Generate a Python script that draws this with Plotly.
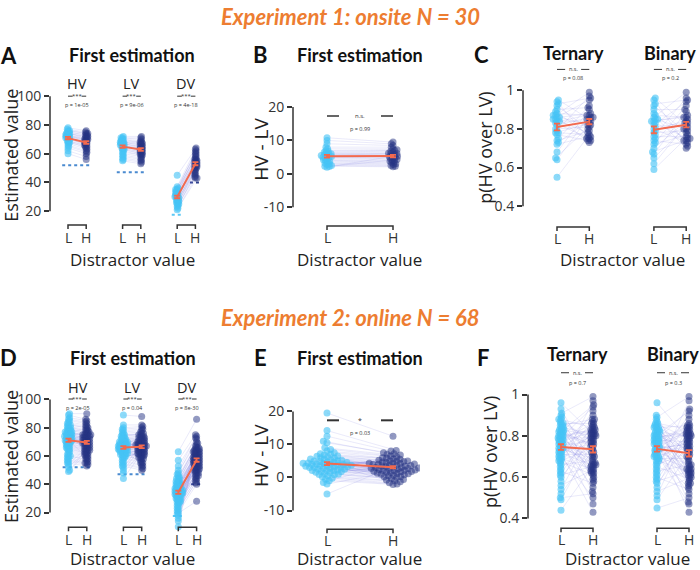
import numpy as np
import plotly.graph_objects as go

W, H = 700, 570

# ---------------- data: Experiment 1 (N = 30) ----------------
e1_hv_L = [78, 77, 76, 76, 75, 75, 74, 74, 74, 73, 73, 73, 72, 72, 72, 71, 71, 71, 70, 70, 69, 69, 68, 68, 67, 66, 65, 64, 62, 60]
e1_hv_H = [76, 75, 74, 74, 73, 73, 72, 72, 71, 71, 70, 70, 70, 69, 69, 68, 68, 67, 67, 66, 66, 65, 65, 64, 63, 62, 61, 60, 58, 56]
e1_lv_L = [72, 71, 71, 70, 70, 69, 69, 68, 68, 68, 67, 67, 67, 66, 66, 66, 65, 65, 64, 64, 63, 63, 62, 61, 60, 59, 58, 57, 56, 55]
e1_lv_H = [72, 71, 70, 69, 68, 68, 67, 67, 66, 66, 65, 65, 64, 64, 63, 63, 62, 62, 61, 61, 60, 60, 59, 59, 58, 57, 56, 55, 54, 53]
e1_dv_L = [45, 37, 36, 35, 35, 34, 34, 33, 33, 32, 32, 31, 31, 30, 30, 30, 29, 29, 28, 28, 27, 27, 26, 26, 25, 25, 24, 23, 22, 21]
e1_dv_H = [64, 63, 62, 61, 60, 59, 58, 57, 56, 56, 55, 55, 54, 54, 53, 53, 52, 52, 51, 51, 50, 50, 49, 48, 47, 46, 45, 44, 43, 43]

e1_diff_L = [10.8, 10, 9, 8, 7.5, 7, 6.8, 6.5, 6.3, 6, 6, 5.8, 5.5, 5.2, 5, 5, 4.8, 4.5, 4.2, 4, 3.8, 3.5, 3.2, 3, 2.8, 2.5, 2.3, 2.2, 2, 5.5]
e1_diff_H = [9.5, 9, 8.5, 8, 7.5, 7.2, 7, 6.8, 6.5, 6.2, 6, 5.8, 5.5, 5.3, 5, 4.8, 4.5, 4.3, 4, 3.8, 3.5, 3.3, 3, 2.8, 2.5, 2.3, 2.1, 4.2, 5.1, 6.1]

e1_ter_L = [0.95, 0.94, 0.93, 0.92, 0.90, 0.89, 0.88, 0.87, 0.87, 0.86, 0.86, 0.85, 0.85, 0.84, 0.83, 0.82, 0.80, 0.79, 0.78, 0.78, 0.77, 0.75, 0.74, 0.73, 0.72, 0.68, 0.65, 0.64, 0.55, 0.84]
e1_ter_H = [0.85, 0.74, 0.96, 0.80, 0.91, 0.76, 0.87, 0.99, 0.82, 0.73, 0.88, 0.78, 0.95, 0.84, 0.75, 0.86, 0.81, 0.97, 0.77, 0.83, 0.74, 0.92, 0.79, 0.86, 0.76, 0.90, 0.82, 0.85, 0.75, 0.87]
e1_bin_L = [0.96, 0.95, 0.93, 0.92, 0.90, 0.88, 0.87, 0.86, 0.85, 0.85, 0.84, 0.83, 0.82, 0.81, 0.80, 0.79, 0.78, 0.77, 0.76, 0.75, 0.74, 0.73, 0.72, 0.70, 0.68, 0.67, 0.65, 0.62, 0.59, 0.84]
e1_bin_H = [0.82, 0.71, 0.95, 0.78, 0.90, 0.74, 0.86, 0.99, 0.80, 0.70, 0.87, 0.75, 0.94, 0.83, 0.73, 0.85, 0.79, 0.96, 0.76, 0.81, 0.72, 0.92, 0.77, 0.84, 0.75, 0.89, 0.80, 0.83, 0.74, 0.86]

# ---------------- data: Experiment 2 (N = 68) ----------------
e2_hv_L = [90, 89, 87, 86, 85, 84, 83, 82, 82, 81, 80, 80, 79, 79, 78, 78, 77, 77, 77, 76,
           76, 76, 75, 75, 75, 74, 74, 74, 73, 73, 73, 72, 72, 72, 71, 71, 71, 70, 70, 70,
           69, 69, 68, 68, 67, 67, 66, 66, 65, 65, 64, 63, 62, 61, 60, 60, 59, 58, 57, 56,
           55, 54, 52, 50, 49, 77, 74, 71]
e2_hv_H = [90, 86, 85, 84, 83, 82, 81, 80, 80, 79, 78, 78, 77, 77, 76, 76, 75, 75, 75, 74,
           74, 74, 73, 73, 73, 72, 72, 72, 71, 71, 71, 70, 70, 70, 69, 69, 69, 68, 68, 67,
           67, 66, 66, 65, 65, 64, 64, 63, 62, 62, 61, 60, 60, 59, 58, 57, 56, 55, 55, 54,
           53, 68, 66, 64, 63, 61, 58, 75]
e2_lv_L = [89, 82, 80, 79, 78, 77, 76, 75, 75, 74, 73, 73, 72, 72, 71, 71, 70, 70, 70, 69,
           69, 69, 68, 68, 68, 67, 67, 67, 66, 66, 66, 65, 65, 65, 64, 64, 64, 63, 63, 62,
           62, 61, 61, 60, 60, 59, 58, 57, 56, 55, 54, 53, 52, 50, 48, 44, 72, 70, 68, 66,
           64, 63, 61, 59, 74, 67, 65, 62]
e2_lv_H = [88, 82, 81, 80, 79, 78, 77, 76, 75, 75, 74, 74, 73, 73, 72, 72, 71, 71, 70, 70,
           69, 69, 68, 68, 68, 67, 67, 67, 66, 66, 65, 65, 64, 64, 63, 63, 62, 62, 61, 61,
           60, 60, 59, 58, 57, 56, 55, 54, 53, 52, 51, 50, 71, 69, 67, 65, 63, 61, 59, 73,
           70, 66, 64, 62, 76, 68, 58, 55]
e2_dv_L = [63, 57, 53, 50, 48, 47, 46, 45, 44, 43, 42, 41, 41, 40, 40, 39, 39, 38, 38, 37,
           37, 37, 36, 36, 36, 35, 35, 35, 34, 34, 34, 33, 33, 33, 32, 32, 31, 31, 30, 30,
           29, 29, 28, 28, 27, 26, 25, 24, 23, 22, 21, 20, 19, 18, 16, 14, 10, 38, 36, 34,
           32, 30, 40, 35, 33, 42, 27, 44]
e2_dv_H = [86, 75, 74, 73, 72, 70, 69, 68, 67, 66, 65, 65, 64, 64, 63, 63, 62, 62, 61, 61,
           60, 60, 59, 59, 58, 58, 57, 57, 56, 56, 55, 55, 54, 54, 53, 53, 52, 52, 51, 51,
           50, 50, 49, 48, 47, 46, 45, 44, 43, 42, 41, 40, 28, 60, 58, 56, 62, 54, 64, 66,
           52, 48, 57, 59, 55, 63, 50, 46]

e2_diff_L = [19.5, 14.2, 12.5, 11, 10.5, 9, 8.5, 8, 7.5, 7, 6.8, 6.5, 6.2, 6, 5.8, 5.5, 5.3, 5, 5, 4.8,
             4.6, 4.5, 4.3, 4.2, 4, 4, 3.8, 3.7, 3.5, 3.4, 3.2, 3, 3, 2.8, 2.6, 2.5, 2.3, 2.1, 2, 1.8,
             1.5, 1.2, 1, 0.8, 0.5, 0.2, -0.2, -0.5, -1, -1.5, -2, -5, 4.4, 3.6, 5.2, 2.9, 6.4, 1.6, 3.9, 4.7,
             2.2, 5.6, 0.9, 3.1, 7.2, 1.9, 4.1, 3.3]
e2_diff_H = [12.5, 8.2, 8, 7.5, 7.2, 7, 6.5, 6.2, 6, 5.8, 5.5, 5.2, 5, 4.8, 4.6, 4.5, 4.3, 4.1, 4, 3.8,
             3.6, 3.5, 3.3, 3.2, 3, 3, 2.8, 2.6, 2.5, 2.3, 2.1, 2, 1.8, 1.6, 1.5, 1.3, 1.1, 1, 0.8, 0.5,
             0.3, 0, -0.3, -0.6, -1, -1.3, -1.6, -2, -2.1, 3.4, 2.7, 4.2, 1.9, 5.1, 0.7, 3.9, 2.4, 6.8, 1.2, 4.4,
             2.9, -0.8, 3.7, 5.6, 1.7, 2.2, 4.9, 0.2]

e2_ter_L = [0.96, 0.93, 0.91, 0.90, 0.89, 0.88, 0.87, 0.86, 0.85, 0.85, 0.84, 0.83, 0.83, 0.82, 0.82, 0.81, 0.80, 0.80, 0.79, 0.79,
            0.78, 0.78, 0.77, 0.77, 0.76, 0.76, 0.75, 0.75, 0.74, 0.74, 0.73, 0.73, 0.72, 0.72, 0.71, 0.71, 0.70, 0.70, 0.69, 0.69,
            0.68, 0.68, 0.67, 0.66, 0.65, 0.64, 0.63, 0.62, 0.61, 0.60, 0.58, 0.56, 0.54, 0.52, 0.50, 0.49, 0.44, 0.86, 0.81, 0.78,
            0.84, 0.76, 0.80, 0.88, 0.83, 0.79, 0.74, 0.82]
e2_ter_H = [0.81, 0.65, 0.99, 0.72, 0.58, 0.84, 0.77, 0.63, 0.88, 0.70, 0.53, 0.80, 0.67, 0.95, 0.75, 0.62, 0.83, 0.47, 0.79, 0.66,
            0.86, 0.73, 0.60, 0.82, 0.90, 0.64, 0.78, 0.55, 0.85, 0.69, 0.76, 0.43, 0.81, 0.66, 0.92, 0.71, 0.50, 0.80, 0.64, 0.87,
            0.74, 0.61, 0.83, 0.68, 0.97, 0.79, 0.57, 0.82, 0.65, 0.77, 0.88, 0.63, 0.84, 0.72, 0.52, 0.80, 0.67, 0.86, 0.75, 0.62,
            0.81, 0.70, 0.94, 0.78, 0.59, 0.83, 0.66, 0.76]
e2_bin_L = [0.96, 0.90, 0.89, 0.88, 0.87, 0.86, 0.85, 0.84, 0.84, 0.83, 0.82, 0.82, 0.81, 0.80, 0.80, 0.79, 0.79, 0.78, 0.78, 0.77,
            0.77, 0.76, 0.76, 0.75, 0.75, 0.74, 0.74, 0.73, 0.73, 0.72, 0.72, 0.71, 0.71, 0.70, 0.70, 0.69, 0.69, 0.68, 0.68, 0.67,
            0.66, 0.65, 0.64, 0.63, 0.62, 0.61, 0.60, 0.59, 0.58, 0.57, 0.55, 0.53, 0.51, 0.49, 0.45, 0.86, 0.81, 0.78, 0.84, 0.76,
            0.80, 0.83, 0.79, 0.74, 0.82, 0.77, 0.85, 0.70]
e2_bin_H = [0.78, 0.62, 0.99, 0.70, 0.56, 0.83, 0.74, 0.60, 0.85, 0.67, 0.48, 0.80, 0.64, 0.92, 0.73, 0.58, 0.82, 0.43, 0.77, 0.63,
            0.84, 0.71, 0.57, 0.81, 0.88, 0.61, 0.76, 0.52, 0.83, 0.66, 0.75, 0.47, 0.79, 0.64, 0.90, 0.69, 0.55, 0.78, 0.62, 0.85,
            0.72, 0.59, 0.80, 0.66, 0.97, 0.77, 0.54, 0.81, 0.63, 0.75, 0.86, 0.60, 0.82, 0.70, 0.50, 0.79, 0.65, 0.84, 0.73, 0.61,
            0.80, 0.68, 0.93, 0.76, 0.57, 0.81, 0.64, 0.74]

# true (reference) values shown as dotted lines
ref_values = {"HV": 52, "LV": 47, "DV_L": 17.5, "DV_H": 40}

groups_est = ["HV", "LV", "DV"]
cond_labels = ["L", "H"]
p_est_1 = ["p = 1e-05", "p = 9e-06", "p = 4e-18"]
p_est_2 = ["p = 2e-05", "p = 0.04", "p = 8e-30"]
sig_est_1 = ["***", "***", "***"]
sig_est_2 = ["***", "***", "***"]
p_diff = ["p = 0.99", "p = 0.03"]
sig_diff = ["n.s.", "*"]
choice_titles = ["Ternary", "Binary"]
p_choice_1 = ["p = 0.08", "p = 0.2"]
p_choice_2 = ["p = 0.7", "p = 0.3"]

# ---------------- style ----------------
FONT = "Open Sans"
TFONT = "Lato"
ORANGE = "#ED7D31"
AXC = "#333333"
COL_L = "rgba(70,196,246,0.62)"
COL_H = "rgba(38,52,132,0.5)"
COL_LINK = "rgba(125,125,225,0.16)"
COL_MEAN = "#F26A4F"
DOT_MID = "#4a8ad0"
DOT_L = "#5bc8f5"
DOT_H = "#2c3e8c"

fig = go.Figure()
annotations = []
shapes = []


def P(px, py):
    return px / W, 1 - py / H


def txt(px, py, s, size, color="#222", bold=False, italic=False, family=FONT, angle=0, xanchor="center"):
    x, y = P(px, py)
    annotations.append(dict(x=x, y=y, xref="paper", yref="paper", text=s, showarrow=False,
                            font=dict(size=size, color=color, family=family,
                                      weight="bold" if bold else "normal",
                                      style="italic" if italic else "normal"),
                            xanchor=xanchor, yanchor="middle", textangle=angle, borderpad=0))


def hline(px0, px1, py, color=AXC, width=1.0):
    x0, y0 = P(px0, py)
    x1, _ = P(px1, py)
    shapes.append(dict(type="line", xref="paper", yref="paper", x0=x0, x1=x1, y0=y0, y1=y0,
                       line=dict(color=color, width=width)))


def vline(px, py0, py1, color=AXC, width=1.5):
    x0, y0 = P(px, py0)
    _, y1 = P(px, py1)
    shapes.append(dict(type="line", xref="paper", yref="paper", x0=x0, x1=x0, y0=y0, y1=y1,
                       line=dict(color=color, width=width)))


class Panel:
    def __init__(self, n, ax_px, p0, sx, right, va, pa, vb, pb, ylo, yhi, ticks, ticktext):
        self.n = n
        self.p0, self.sx = p0, sx
        self.va, self.pa = va, pa
        self.sy = (pb - pa) / (va - vb)
        self.ax_px = ax_px
        ptop = pa - (yhi - va) * self.sy
        pbot = pa + (va - ylo) * self.sy
        sfx = "" if n == 1 else str(n)
        self.xref, self.yref = "x" + sfx, "y" + sfx
        fig.layout["xaxis" + sfx] = dict(domain=[ax_px / W, right / W],
                                         range=[(ax_px - p0) / sx, (right - p0) / sx],
                                         visible=False, anchor=self.yref, fixedrange=True)
        fig.layout["yaxis" + sfx] = dict(domain=[1 - pbot / H, 1 - ptop / H], range=[ylo, yhi],
                                         anchor=self.xref, showgrid=False, zeroline=False, showline=False,
                                         ticks="outside", ticklen=5, tickwidth=1.5, tickcolor=AXC,
                                         tickvals=ticks, ticktext=ticktext,
                                         tickfont=dict(family=FONT, size=14, color=AXC), fixedrange=True)
        vline(ax_px, self.ypx(min(ticks)), self.ypx(max(ticks)))

    def xpx(self, v):
        return self.p0 + v * self.sx

    def ypx(self, v):
        return self.pa + (self.va - v) * self.sy


def swarm(vals, sy, dmin):
    n = len(vals)
    order = sorted(range(n), key=lambda i: vals[i])
    placed = []
    offs = [0.0] * n
    for k, i in enumerate(order):
        y = vals[i] * sy
        forb = []
        for (xo, yo) in placed:
            dy = abs(y - yo)
            if dy < dmin:
                dx = (dmin ** 2 - dy ** 2) ** 0.5
                forb.append((xo - dx, xo + dx))
        sgn = 1 if k % 2 else -1
        cands = [0.0] + [a for a, b in forb] + [b for a, b in forb]
        cands.sort(key=lambda c: (round(abs(c), 6), -sgn * c))
        chosen = 0.0
        for c in cands:
            if all(not (a + 1e-6 < c < b - 1e-6) for a, b in forb):
                chosen = c
                break
        offs[i] = chosen
        placed.append((chosen, y))
    return offs


def pair(pn, xL, xH, vL, vH, dmin, msize=7):
    oL = swarm(vL, pn.sy, dmin)
    oH = swarm(vH, pn.sy, dmin)
    xl = [xL + o / pn.sx for o in oL]
    xh = [xH + o / pn.sx for o in oH]
    lx, ly = [], []
    for a, b, c, d in zip(xl, xh, vL, vH):
        lx += [a, b, None]
        ly += [c, d, None]
    fig.add_trace(go.Scatter(x=lx, y=ly, mode="lines", line=dict(color=COL_LINK, width=1),
                             xaxis=pn.xref, yaxis=pn.yref, hoverinfo="skip"))
    fig.add_trace(go.Scatter(x=xl, y=vL, mode="markers", marker=dict(color=COL_L, size=msize, line=dict(width=0)),
                             xaxis=pn.xref, yaxis=pn.yref))
    fig.add_trace(go.Scatter(x=xh, y=vH, mode="markers", marker=dict(color=COL_H, size=msize, line=dict(width=0)),
                             xaxis=pn.xref, yaxis=pn.yref))
    m = [float(np.mean(vL)), float(np.mean(vH))]
    se = [float(np.std(vL, ddof=1) / np.sqrt(len(vL))), float(np.std(vH, ddof=1) / np.sqrt(len(vH)))]
    fig.add_trace(go.Scatter(x=[xL, xH], y=m, mode="lines", line=dict(color=COL_MEAN, width=2),
                             error_y=dict(type="data", array=se, color=COL_MEAN, thickness=1.8, width=3),
                             xaxis=pn.xref, yaxis=pn.yref))


def dotted(pn, x0, x1, y, color):
    fig.add_trace(go.Scatter(x=[x0, x1], y=[y, y], mode="lines", line=dict(color=color, width=2, dash="dot"),
                             xaxis=pn.xref, yaxis=pn.yref, hoverinfo="skip"))


def bracket(pn, xL, xH, py, lab_py):
    x0, _ = P(pn.xpx(xL), 0)
    x1, _ = P(pn.xpx(xH), 0)
    _, yb = P(0, py)
    _, yt = P(0, py + 4)
    shapes.append(dict(type="path", xref="paper", yref="paper",
                       path=f"M {x0},{yt} L {x0},{yb} L {x1},{yb} L {x1},{yt}",
                       line=dict(color=AXC, width=1.5)))
    txt(pn.xpx(xL), lab_py, cond_labels[0], 14, AXC)
    txt(pn.xpx(xH), lab_py, cond_labels[1], 14, AXC)


def sig(pn, xL, xH, py, label, gap, lw=1.0, size=6, color="#333"):
    a, b = pn.xpx(xL), pn.xpx(xH)
    mid = (a + b) / 2
    hline(a, mid - gap, py, color, lw)
    hline(mid + gap, b, py, color, lw)
    txt(mid, py, label, size, "#333")


TSIZE = 18
LSIZE = 22
XSIZE = 17

# ============ Experiment 1 ============
txt(350, 13, "Experiment 1: onsite N = 30", 22, ORANGE, bold=True, italic=True, family=TFONT)

# Panel A
pA = Panel(1, 50, 68, 18.2, 228, 100, 93, 20, 209, 8, 106, [20, 40, 60, 80, 100], ["20", "40", "60", "80", "100"])
data_A = [(e1_hv_L, e1_hv_H), (e1_lv_L, e1_lv_H), (e1_dv_L, e1_dv_H)]
dotted(pA, -0.32, 1.3, ref_values["HV"], DOT_MID)
dotted(pA, 3 - 0.32, 4.3, ref_values["LV"], DOT_MID)
dotted(pA, 6 - 0.3, 6.3, ref_values["DV_L"], DOT_L)
dotted(pA, 7 - 0.3, 7.35, ref_values["DV_H"], DOT_H)
for g, (vl, vh) in enumerate(data_A):
    xL = 3 * g
    pair(pA, xL, xL + 1, vl, vh, 1.6, 7)
    txt(pA.xpx(xL + 0.5), 80.5, groups_est[g], 14.5, "#222")
    sig(pA, xL, xL + 1, 93, sig_est_1[g], 4.5, 1.0, 6)
    txt(pA.xpx(xL + 0.5), 101.5, p_est_1[g], 5.5, "#333")
    bracket(pA, xL, xL + 1, 223, 236)
txt(8, 52, "A", LSIZE, "#111", bold=True, family=TFONT)
txt(132, 51, "First estimation", TSIZE, "#111", bold=True, family=TFONT)
txt(11, 153, "Estimated value", 18, "#222", angle=-90)
txt(132, 258, "Distractor value", XSIZE, "#222")

# Panel B
pB = Panel(2, 293, 327, 66, 420, 20, 104, -10, 205, -14, 22, [-10, 0, 10, 20], ["-10", "0", "10", "20"])
pair(pB, 0, 1, e1_diff_L, e1_diff_H, 2.4, 7)
sig(pB, 0, 1, 113, sig_diff[0], 21, 2.0, 6, "#666")
txt(pB.xpx(0.5), 126, p_diff[0], 5.5, "#333")
bracket(pB, 0, 1, 224, 236)
txt(260, 51, "B", LSIZE, "#111", bold=True, family=TFONT)
txt(360, 51, "First estimation", TSIZE, "#111", bold=True, family=TFONT)
txt(261, 147, "HV - LV", 19, "#222", angle=-90)
txt(360, 258, "Distractor value", XSIZE, "#222")

# Panel C
pC = Panel(3, 523, 557, 32.3, 700, 1, 87, 0.4, 204, 0.36, 1.03, [0.4, 0.6, 0.8, 1.0], ["0.4", "0.6", "0.8", "1"])
data_C = [(e1_ter_L, e1_ter_H), (e1_bin_L, e1_bin_H)]
for g, (vl, vh) in enumerate(data_C):
    xL = 3 * g
    pair(pC, xL, xL + 1, vl, vh, 2.4, 7)
    txt(pC.xpx(xL + 0.5), 49, choice_titles[g], TSIZE, "#111", bold=True, family=TFONT)
    sig(pC, xL, xL + 1, 66, "n.s.", 8, 1.0, 5.5)
    txt(pC.xpx(xL + 0.5), 75, p_choice_1[g], 5.5, "#333")
    bracket(pC, xL, xL + 1, 225, 237)
txt(481, 51, "C", LSIZE, "#111", bold=True, family=TFONT)
txt(485, 145, "p(HV over LV)", 18, "#222", angle=-90)
txt(622, 258, "Distractor value", XSIZE, "#222")

# ============ Experiment 2 ============
txt(350, 316, "Experiment 2: online N = 68", 22, ORANGE, bold=True, italic=True, family=TFONT)

# Panel D
pD = Panel(4, 50, 68.5, 18.3, 228, 100, 399, 20, 513, 5, 106, [20, 40, 60, 80, 100], ["20", "40", "60", "80", "100"])
data_D = [(e2_hv_L, e2_hv_H), (e2_lv_L, e2_lv_H), (e2_dv_L, e2_dv_H)]
dotted(pD, -0.32, 1.3, ref_values["HV"], DOT_MID)
dotted(pD, 3 - 0.32, 4.3, ref_values["LV"], DOT_MID)
dotted(pD, 6 - 0.3, 6.3, ref_values["DV_L"], DOT_L)
dotted(pD, 7 - 0.3, 7.35, ref_values["DV_H"], DOT_H)
for g, (vl, vh) in enumerate(data_D):
    xL = 3 * g
    pair(pD, xL, xL + 1, vl, vh, 1.8, 7)
    txt(pD.xpx(xL + 0.5), 386.5, groups_est[g], 14.5, "#222")
    sig(pD, xL, xL + 1, 398.5, sig_est_2[g], 4.5, 1.0, 6)
    txt(pD.xpx(xL + 0.5), 407.5, p_est_2[g], 5.5, "#333")
    bracket(pD, xL, xL + 1, 528, 540)
txt(8, 357, "D", LSIZE, "#111", bold=True, family=TFONT)
txt(133, 357, "First estimation", TSIZE, "#111", bold=True, family=TFONT)
txt(11, 457, "Estimated value", 18, "#222", angle=-90)
txt(132, 559, "Distractor value", XSIZE, "#222")

# Panel E
pE = Panel(5, 293, 327, 66, 420, 20, 411, -10, 511, -14, 22, [-10, 0, 10, 20], ["-10", "0", "10", "20"])
pair(pE, 0, 1, e2_diff_L, e2_diff_H, 4.0, 7)
sig(pE, 0, 1, 420, sig_diff[1], 21, 2.0, 7, "#333")
txt(pE.xpx(0.5), 433, p_diff[1], 5.5, "#333")
bracket(pE, 0, 1, 530, 541)
txt(260, 357, "E", LSIZE, "#111", bold=True, family=TFONT)
txt(360, 357, "First estimation", TSIZE, "#111", bold=True, family=TFONT)
txt(261, 456, "HV - LV", 19, "#222", angle=-90)
txt(360, 559, "Distractor value", XSIZE, "#222")

# Panel F
pF = Panel(6, 528, 561, 32, 700, 1, 394, 0.4, 519, 0.36, 1.03, [0.4, 0.6, 0.8, 1.0], ["0.4", "0.6", "0.8", "1"])
data_F = [(e2_ter_L, e2_ter_H), (e2_bin_L, e2_bin_H)]
for g, (vl, vh) in enumerate(data_F):
    xL = 3 * g
    pair(pF, xL, xL + 1, vl, vh, 2.2, 7)
    txt(pF.xpx(xL + 0.5), 353, choice_titles[g], TSIZE, "#111", bold=True, family=TFONT)
    sig(pF, xL, xL + 1, 372, "n.s.", 8, 1.0, 5.5)
    txt(pF.xpx(xL + 0.5), 382, p_choice_2[g], 5.5, "#333")
    bracket(pF, xL, xL + 1, 529, 540)
txt(483, 357, "F", LSIZE, "#111", bold=True, family=TFONT)
txt(490, 452, "p(HV over LV)", 18, "#222", angle=-90)
txt(627, 559, "Distractor value", XSIZE, "#222")

fig.update_layout(width=W, height=H, margin=dict(l=0, r=0, t=0, b=0), showlegend=False,
                  paper_bgcolor="white", plot_bgcolor="white",
                  annotations=annotations, shapes=shapes,
                  font=dict(family=FONT))
fig.write_html("out.html")
